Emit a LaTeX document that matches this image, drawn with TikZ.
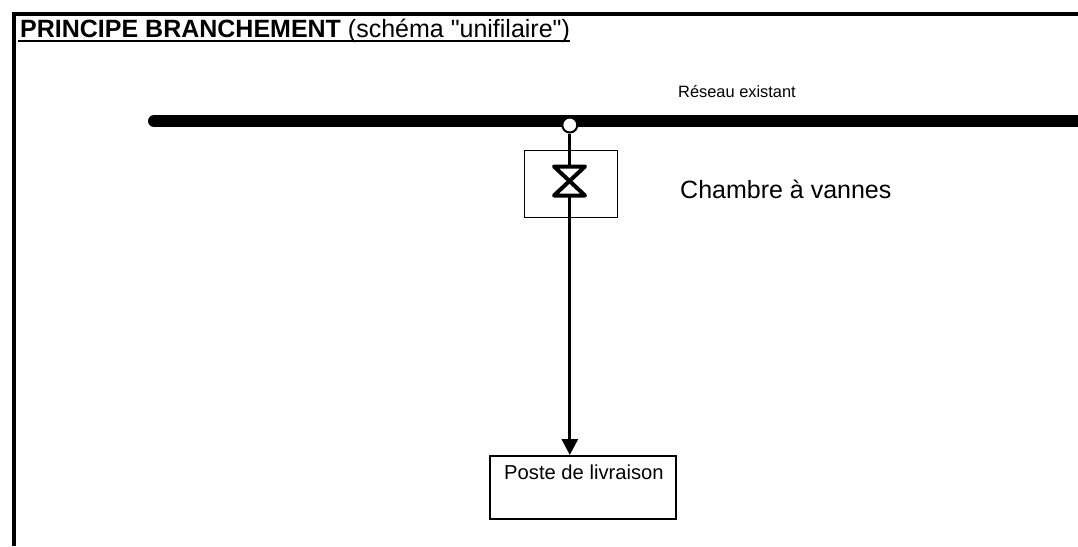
\documentclass[tikz,border=0pt]{standalone}
\usepackage{fontspec}
\newfontfamily\lib{Liberation Sans}
\usetikzlibrary{arrows.meta}
\tikzset{
  frameline/.style={line width=3.4pt,black},
  thinbox/.style={draw=black,line width=1.5pt,inner sep=0pt,anchor=north west},
  pipe/.style={line width=3pt,black},
  lbl/.style={inner sep=0pt,anchor=base west,text=black},
}
\begin{document}
\begin{tikzpicture}[x=1pt,y=-1pt]
\useasboundingbox (0,0) rectangle (1078,546);
\fill[white] (0,0) rectangle (1078,546);
\coordinate (frameTL) at (14,14);
\coordinate (frameTR) at (1078,14);
\coordinate (frameBL) at (14,546);
\coordinate (ulL) at (18,41);
\coordinate (ulR) at (570,41);
\draw[frameline] (frameTR) -- (frameTL) -- (frameBL);
\draw[line width=2.4pt] (ulL) -- (ulR);
\node[lbl,font=\lib\fontsize{25}{25}\selectfont] (title) at (20,37.5) {\textbf{PRINCIPE BRANCHEMENT} (schéma "unifilaire")};
\coordinate (netL) at (154,121);
\coordinate (netR) at (1078,121);
\draw[line width=12pt,line cap=round] (netL) -- (netR);
\node[lbl,font=\lib\fontsize{16.4}{16.4}\selectfont] (res) at (678,97.5) {Réseau existant};
\node[thinbox,minimum width=93pt,minimum height=67pt] (chambre) at (523.5,149.5) {};
\node[lbl,font=\lib\fontsize{25}{25}\selectfont] (chlbl) at (680,198.5) {Chambre à vannes};
\node[thinbox,line width=2.4pt,minimum width=186pt,minimum height=63pt] (poste) at (488.5,455) {};
\node[lbl,font=\lib\fontsize{20.2}{20.2}\selectfont] (postelbl) at (504,479.5) {Poste de livraison};
\coordinate (vTL) at (554,166.5);
\coordinate (vTR) at (585,166.5);
\coordinate (vBL) at (554,195.5);
\coordinate (vBR) at (585,195.5);
\node[circle,draw=black,fill=white,line width=2pt,minimum size=15pt,inner sep=0pt] (tap) at (569.8,125) {};
\draw[line width=4pt,line join=round] (vTL) -- (vTR) -- (vBL) -- (vBR) -- cycle;
\draw[pipe] (tap) -- (tap |- vTL);
\draw[pipe,-{Triangle[length=16pt,width=16pt]}] (tap |- vBL) -- (tap |- poste.north);
\end{tikzpicture}
\end{document}
